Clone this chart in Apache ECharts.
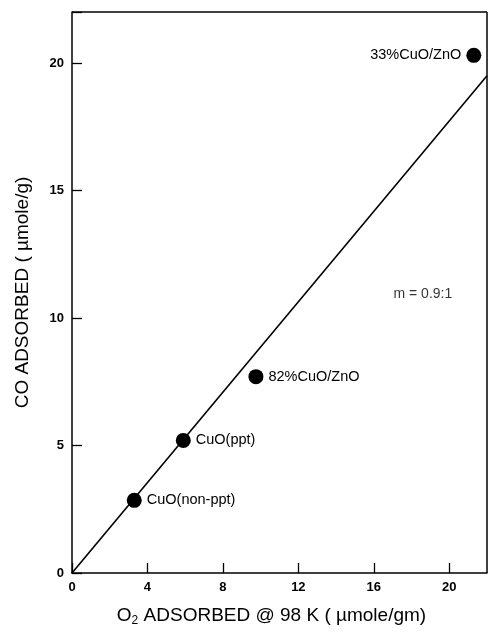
<!DOCTYPE html>
<html>
<head>
<meta charset="utf-8">
<script src="https://cdn.jsdelivr.net/npm/echarts@6/dist/echarts.min.js"></script>
<style>html,body{margin:0;padding:0;background:#fff}#c{width:489px;height:633px}</style>
</head>
<body>
<div id="c"></div>
<script>
const sampleNames = ["CuO(non-ppt)", "CuO(ppt)", "82%CuO/ZnO", "33%CuO/ZnO"];
const o2Values = [3.3, 5.9, 9.75, 21.3];
const coValues = [2.85, 5.2, 7.7, 20.3];
const labelSides = ["right", "right", "right", "left"];
const fitLineX = [0, 22];
const fitLineY = [0, 19.5];
const xTicks = [0, 4, 8, 12, 16, 20];
const yTicks = [0, 5, 10, 15, 20];
const slopeText = "m = 0.9:1";
const slopePos = [18.6, 10.95];

const font = "'Liberation Sans', Arial, sans-serif";
const chart = echarts.init(document.getElementById('c'));

const points = sampleNames.map((n, i) => ({
  value: [o2Values[i], coValues[i]],
  name: n,
  label: { position: labelSides[i] }
}));

chart.setOption({
  animation: false,
  backgroundColor: '#fff',
  grid: { left: 72, right: 2, top: 12, bottom: 60, containLabel: false, show: false },
  xAxis: {
    type: 'value', min: 0, max: 22, interval: 4,
    axisLine: { show: true, onZero: false, lineStyle: { color: '#000', width: 1.5 } },
    axisTick: { show: true, inside: true, length: 10, lineStyle: { color: '#000', width: 1.3 } },
    axisLabel: {
      color: '#000', fontFamily: font, fontSize: 13, fontWeight: 'bold', margin: 8,
      formatter: v => xTicks.includes(v) ? String(v) : '', showMaxLabel: false
    },
    splitLine: { show: false },
    name: 'O{sub|2} ADSORBED @ 98 K ( µmole/gm)',
    nameLocation: 'middle', nameGap: 32,
    nameTextStyle: {
      color: '#000', fontFamily: font, fontSize: 19, padding: [0, 16, 0, 0],
      rich: { sub: { fontSize: 12, fontFamily: font, color: '#000', padding: [10, 0, 0, 0] } }
    }
  },
  yAxis: {
    type: 'value', min: 0, max: 22, interval: 5,
    axisLine: { show: true, onZero: false, lineStyle: { color: '#000', width: 1.5 } },
    axisTick: { show: true, inside: true, length: 10, lineStyle: { color: '#000', width: 1.3 } },
    axisLabel: {
      color: '#000', fontFamily: font, fontSize: 13, fontWeight: 'bold', margin: 8,
      formatter: v => yTicks.includes(v) ? String(v) : ''
    },
    splitLine: { show: false },
    name: 'CO ADSORBED ( µmole/g)',
    nameLocation: 'middle', nameGap: 40,
    nameTextStyle: { color: '#000', fontFamily: font, fontSize: 19 }
  },
  series: [
    {
      type: 'line',
      data: fitLineX.map((x, i) => [x, fitLineY[i]]),
      showSymbol: false, symbol: 'none',
      lineStyle: { color: '#000', width: 1.6 },
      silent: true,
      clip: true,
      markLine: {
        silent: true, symbol: 'none',
        lineStyle: { color: '#000', width: 1.5, type: 'solid' },
        label: { show: false },
        data: [
          [{ coord: [22, 0] }, { coord: [22, 22] }],
          [{ coord: [0, 22] }, { coord: [22, 22] }]
        ]
      }
    },
    {
      type: 'scatter',
      data: points,
      symbol: 'circle', symbolSize: 15,
      itemStyle: { color: '#000', opacity: 1 },
      label: {
        show: true, formatter: p => p.name, color: '#000',
        fontFamily: font, fontSize: 14.5, distance: 5
      }
    },
    {
      type: 'scatter',
      data: [{ value: slopePos, name: slopeText }],
      symbolSize: 0,
      label: { show: true, position: 'inside', formatter: p => p.name, color: '#000', fontFamily: font, fontSize: 14 }
    }
  ]
});
</script>
</body>
</html>
